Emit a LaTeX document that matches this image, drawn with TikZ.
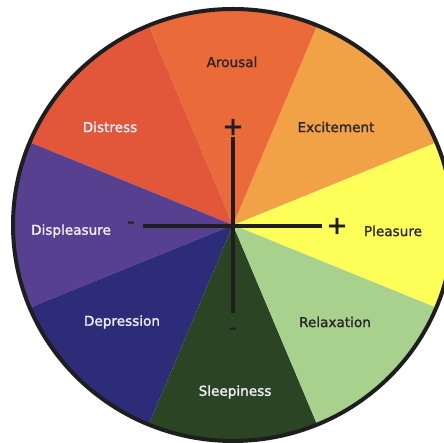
\documentclass[tikz,border=0pt]{standalone}
\usepackage{fontspec}
\setmainfont{DejaVu Sans}
\newfontfamily\lblfont{DejaVu Sans}[FakeBold=1.2]
\newfontfamily\signfont{DejaVu Sans}[FakeBold=2]
\definecolor{cArousal}{HTML}{EB6A3A}
\definecolor{cDistress}{HTML}{E2573A}
\definecolor{cExcite}{HTML}{F1A246}
\definecolor{cPleasure}{HTML}{FFFF5A}
\definecolor{cRelax}{HTML}{A9D18E}
\definecolor{cSleep}{HTML}{2A4424}
\definecolor{cDepress}{HTML}{2C2C78}
\definecolor{cDispl}{HTML}{57408F}
\definecolor{rim}{HTML}{1E1E1E}
\begin{document}
\begin{tikzpicture}[x=1pt,y=1pt,
  lbl/.style={font=\lblfont\fontsize{13.6}{15}\selectfont, inner sep=0pt},
  dark/.style={lbl, text=black!85},
  light/.style={lbl, text=white!95!blue},
  axisline/.style={line width=4pt, draw=rim},
  sign/.style={font=\signfont\fontsize{25}{25}\selectfont, text=rim, inner sep=0pt},
  dashsign/.style={font=\signfont\fontsize{20}{20}\selectfont, text=rim, inner sep=0pt}]
\useasboundingbox (0,0) rectangle (444,443);
\coordinate (o) at (233,218);
% eight 45-degree sectors of the affect circle
\foreach \a/\c in {0/cPleasure,45/cExcite,90/cArousal,135/cDistress,
                   180/cDispl,225/cDepress,270/cSleep,315/cRelax}{
  \fill[\c] (o) -- ++(\a-22.5:220pt and 216pt)
    arc[start angle=\a-22.5, end angle=\a+22.5, x radius=220pt, y radius=216pt] -- cycle;
}
\draw[line width=4pt, rim] (o) ellipse [x radius=220pt, y radius=216pt];
% axes
\coordinate (yt) at (233,306);
\coordinate (yb) at (233,130);
\coordinate (xl) at (143,217);
\coordinate (xr) at (322,217);
\draw[axisline] (yt) -- (yb);
\draw[axisline] (xl) -- (xr);
\node[sign] (pt) at (233,316) {+};
\node[sign] (pr) at (337,217) {+};
\node[dashsign] (ml) at (131,218) {-};
\node[dashsign] (mb) at (233,112) {-};
% labels
\node[dark]  (arousal)  at (232,381) {Arousal};
\node[light] (distress) at (110,316) {Distress};
\node[dark]  (excite)   at (336,316) {Excitement};
\node[light] (displ)    at (71,212)  {Displeasure};
\node[dark]  (pleasure) at (393,212) {Pleasure};
\node[light] (depress)  at (122,121) {Depression};
\node[dark]  (relax)    at (335,121) {Relaxation};
\node[light] (sleep)    at (235,51)  {Sleepiness};
\end{tikzpicture}
\end{document}
